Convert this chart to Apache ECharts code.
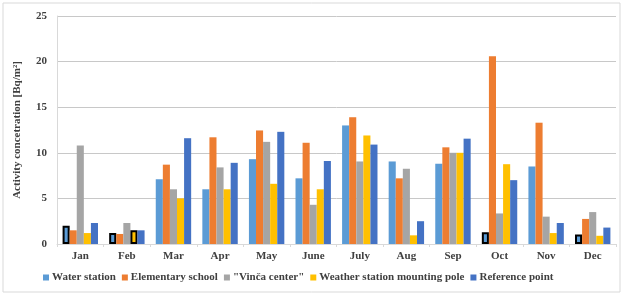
<!DOCTYPE html>
<html>
<head>
<meta charset="utf-8">
<script src="https://cdn.jsdelivr.net/npm/echarts@6/dist/echarts.min.js"></script>
<style>
  html, body { margin: 0; padding: 0; background: #fff; }
  #activity_chart { width: 624px; height: 295px; }
</style>
</head>
<body>
<div id="activity_chart"></div>
<script>
// 月份 / 测点
var months = ['Jan', 'Feb', 'Mar', 'Apr', 'May', 'June', 'July', 'Aug', 'Sep', 'Oct', 'Nov', 'Dec']
var waterStation = [2.0, 1.2, 7.1, 6.0, 9.3, 7.2, 13.0, 9.05, 8.8, 1.3, 8.5, 1.05]
var elementarySchool = [1.5, 1.1, 8.7, 11.7, 12.45, 11.1, 13.9, 7.2, 10.6, 20.6, 13.3, 2.75]
var vincaCenter = [10.8, 2.3, 6.0, 8.4, 11.2, 4.3, 9.05, 8.25, 10.0, 3.35, 3.0, 3.5]
var weatherPole = [1.2, 1.5, 5.0, 6.0, 6.6, 6.0, 11.9, 0.95, 10.0, 8.75, 1.2, 0.9]
var referencePoint = [2.3, 1.5, 11.6, 8.9, 12.3, 9.1, 10.9, 2.5, 11.55, 7.0, 2.3, 1.8]
// bars drawn with black outline (month index)
var waterOutlined = [0, 1, 9, 11]
var weatherOutlined = [1]
var yTicks = [0, 5, 10, 15, 20, 25]

var seriesNames = ['Water station', 'Elementary school', '"Vinča center"', 'Weather station mounting pole', 'Reference point']
var seriesColors = ['#5b9bd5', '#ed7d31', '#a5a5a5', '#ffc000', '#4472c4']
var seriesData = [waterStation, elementarySchool, vincaCenter, weatherPole, referencePoint]
var outlined = [waterOutlined, [], [], weatherOutlined, []]

var serifFont = '"Liberation Serif", "DejaVu Serif", serif'

var activity_chart = echarts.init(document.getElementById('activity_chart'))

var series = seriesData.map(function (vals, s) {
  return {
    name: seriesNames[s],
    type: 'bar',
    barGap: '0%',
    barCategoryGap: '24%',
    itemStyle: { color: seriesColors[s] },
    data: vals.map(function (v, i) {
      if (outlined[s].indexOf(i) >= 0) {
        return { value: v, itemStyle: { borderColor: '#000', borderWidth: 2 } }
      }
      return v
    }),
  }
})

activity_chart_option = {
  animation: false,
  backgroundColor: '#fff',
  graphic: [
    {
      type: 'rect',
      shape: { x: 3, y: 3, width: 617, height: 289 },
      style: { fill: 'none', stroke: '#d9d9d9', lineWidth: 1 },
      silent: true,
    },
  ],
  grid: {
    left: 57,
    right: 8,
    top: 16,
    bottom: 51,
  },
  legend: {
    bottom: 7,
    left: 38,
    itemWidth: 6,
    itemHeight: 6,
    itemGap: 6,
    icon: 'rect',
    textStyle: {
      fontFamily: serifFont,
      fontWeight: 'bold',
      fontSize: 11,
      color: '#404040',
      padding: [0, 0, 0, -2],
    },
    data: seriesNames,
  },
  xAxis: {
    type: 'category',
    data: months,
    axisLine: { lineStyle: { color: '#d9d9d9' } },
    axisTick: { show: true, length: 3, lineStyle: { color: '#d9d9d9' } },
    axisLabel: {
      fontFamily: serifFont,
      fontWeight: 'bold',
      fontSize: 11,
      color: '#404040',
      margin: 7,
    },
  },
  yAxis: {
    type: 'value',
    min: yTicks[0],
    max: yTicks[yTicks.length - 1],
    interval: yTicks[1] - yTicks[0],
    name: 'Activity concetration [Bq/m²]',
    nameLocation: 'middle',
    nameGap: 34,
    nameTextStyle: {
      fontFamily: serifFont,
      fontWeight: 'bold',
      fontSize: 11,
      color: '#404040',
    },
    axisLine: { show: true, lineStyle: { color: '#d9d9d9' } },
    axisTick: { show: false },
    axisLabel: {
      fontFamily: serifFont,
      fontWeight: 'bold',
      fontSize: 11,
      color: '#404040',
      margin: 10,
    },
    splitLine: { lineStyle: { color: '#c8c8c8' } },
  },
  series: series,
}

activity_chart.setOption(activity_chart_option)
</script>
</body>
</html>
